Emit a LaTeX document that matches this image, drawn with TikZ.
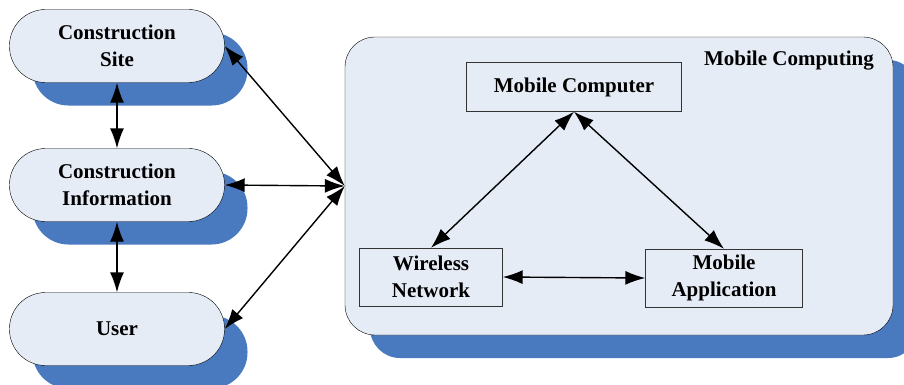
\documentclass[tikz,border=0pt]{standalone}
\usepackage{fontspec}
\setmainfont{Liberation Serif}
\usetikzlibrary{arrows.meta,shadows}
\definecolor{boxfill}{RGB}{230,236,246}
\definecolor{shadowblue}{RGB}{73,122,192}
\tikzset{
  pill/.style={draw, fill=boxfill, rounded corners=36pt, minimum width=215pt,
    minimum height=73pt, align=center,
    drop shadow={shadow xshift=23pt, shadow yshift=-23pt, fill=shadowblue, opacity=1}},
  part/.style={draw=black!80, fill=boxfill, align=center, inner sep=2pt},
  link/.style={{Latex[length=20pt,width=14pt]}-{Latex[length=20pt,width=14pt]}, line width=1.4pt}
}
\begin{document}
\begin{tikzpicture}[x=1pt,y=-1pt,font=\bfseries\fontsize{21}{26.5}\selectfont]
      \useasboundingbox (0,0) rectangle (904,384);
      % mobile computing frame
      \node[draw, fill=boxfill, rounded corners=30pt, minimum width=548pt, minimum height=298pt,
        drop shadow={shadow xshift=25pt, shadow yshift=-23pt, fill=shadowblue, opacity=1}]
        (mcbox) at (619,186) {};
      \node (mclabel) at (789,61) {Mobile Computing};
      \node[part, minimum width=215pt, minimum height=49pt] (mc) at (574,87) {Mobile Computer};
      \node[part, minimum width=143pt, minimum height=58pt] (wn) at (431,277) {Wireless\\Network};
      \node[part, minimum width=157pt, minimum height=58pt] (ma) at (724,278) {Mobile\\Application};
      % left side
      \node[pill] (cs) at (117,46) {Construction\\Site};
      \node[pill] (ci) at (117,185) {Construction\\Information};
      \node[pill] (us) at (117,329) {User};
      % connectors
      \draw[link] (cs.south) -- (ci.north);
      \draw[link] (ci.south) -- (us.north);
      \draw[link] (cs.east) -- (mcbox.west);
      \draw[link] (ci.east) -- (mcbox.west);
      \draw[link] (us.east) -- (mcbox.west);
      \draw[link] (mc.south) -- (wn.north);
      \draw[link] (mc.south) -- (ma.north);
      \draw[link] (wn.east) -- (ma.west);
    \end{tikzpicture}
\end{document}
